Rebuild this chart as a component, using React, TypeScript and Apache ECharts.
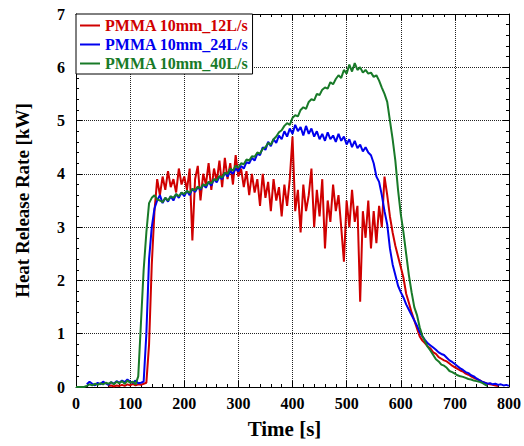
import React, { useEffect, useRef } from "react";
import * as echarts from "echarts";

const seriesNames = ["PMMA 10mm_12L/s", "PMMA 10mm_24L/s", "PMMA 10mm_40L/s"];
const seriesColors = ["#d00000", "#0000ee", "#187a28"];
const sampleStep = 5; // s
const redStart = 60;
const blueStart = 20;
const greenStart = 0;

// 12 L/s (red), from t = 60 s
const redValues = [
  0.02, 0.03, 0.01, 0.03, 0.02, 0.04, 0.02, 0.05, 0.03, 0.06,
  0.03, 0.05, 0.04, 0.06, 0.08, 0.8, 2.3, 3.3, 3.9, 3.6,
  3.95, 3.7, 4.05, 3.75, 3.9, 3.65, 4.1, 3.8, 3.95, 3.7,
  4.1, 2.75, 3.9, 4.15, 3.5, 4.0, 3.8, 4.2, 3.7, 4.1,
  3.85, 4.25, 3.75, 4.3, 3.9, 4.2, 3.8, 4.35, 3.95, 4.1,
  3.75, 4.05, 3.6, 4.0, 3.65, 3.9, 3.4, 4.0, 3.55, 3.85,
  3.3, 3.9, 3.5, 3.75, 3.2, 3.8, 3.4, 3.9, 4.7, 3.3,
  3.7, 2.9, 3.8, 3.3, 3.6, 4.1, 3.0, 3.7, 3.2, 3.9,
  2.6, 3.5, 3.1, 3.8, 3.3, 3.6, 3.0, 2.35, 3.5, 3.0,
  3.7, 3.1, 3.4, 1.6, 3.3, 2.8, 3.5, 2.6, 3.3, 2.7,
  3.4, 3.0, 3.95, 3.6, 3.2, 2.9, 2.65, 2.45, 2.25, 2.05,
  1.75, 1.58, 1.4, 1.25, 1.1, 0.95, 0.87, 0.82, 0.76, 0.72,
  0.65, 0.62, 0.56, 0.53, 0.5, 0.48, 0.44, 0.4, 0.37, 0.34,
  0.31, 0.29, 0.25, 0.23, 0.2, 0.17, 0.15, 0.13, 0.1, 0.08,
  0.06, 0.05, 0.04, 0.03, 0.02,
];

// 24 L/s (blue), from t = 20 s
const blueValues = [
  0.05, 0.1, 0.06, 0.03, 0.08, 0.05, 0.1, 0.07, 0.04, 0.09,
  0.06, 0.11, 0.08, 0.12, 0.09, 0.14, 0.1, 0.08, 0.12, 0.07,
  0.08, 0.1, 1.0, 2.4, 3.0, 3.35, 3.5, 3.6, 3.45, 3.55,
  3.48, 3.58, 3.5, 3.62, 3.55, 3.65, 3.58, 3.68, 3.6, 3.72,
  3.66, 3.75, 3.7, 3.8, 3.74, 3.85, 3.78, 3.9, 3.84, 3.95,
  3.9, 4.02, 3.95, 4.05, 4.0, 4.1, 4.05, 4.15, 4.1, 4.22,
  4.2, 4.3, 4.25, 4.38, 4.35, 4.5, 4.45, 4.6, 4.52, 4.65,
  4.58, 4.72, 4.65, 4.8, 4.7, 4.85, 4.75, 4.92, 4.8, 4.88,
  4.72, 4.9, 4.75, 4.85, 4.7, 4.8, 4.65, 4.75, 4.62, 4.78,
  4.65, 4.72, 4.6, 4.75, 4.62, 4.7, 4.55, 4.65, 4.5, 4.62,
  4.48, 4.55, 4.42, 4.5, 4.4, 4.35, 4.2, 3.95, 3.85, 3.6,
  3.3, 3.05, 2.6, 2.3, 2.1, 1.9, 1.78, 1.68, 1.55, 1.45,
  1.35, 1.25, 1.15, 1.03, 0.95, 0.88, 0.82, 0.78, 0.74, 0.7,
  0.65, 0.62, 0.6, 0.55, 0.5, 0.47, 0.43, 0.39, 0.35, 0.32,
  0.28, 0.26, 0.22, 0.2, 0.16, 0.13, 0.1, 0.08, 0.06, 0.07,
  0.05, 0.06, 0.04, 0.05, 0.03, 0.04, 0.02,
];

// 40 L/s (green), from t = 0 s
const greenValues = [
  0, 0, 0, 0, 0.02, 0.05, 0.03, 0.06, 0.04, 0.07,
  0.05, 0.08, 0.06, 0.09, 0.05, 0.1, 0.07, 0.11, 0.06, 0.12,
  0.08, 0.1, 0.05, 0.2, 1.2, 2.2, 2.9, 3.45, 3.55, 3.6,
  3.52, 3.5, 3.47, 3.55, 3.5, 3.58, 3.55, 3.62, 3.58, 3.65,
  3.62, 3.68, 3.64, 3.72, 3.69, 3.76, 3.72, 3.8, 3.78, 3.85,
  3.82, 3.9, 3.88, 3.96, 3.93, 4.02, 4.0, 4.1, 4.06, 4.15,
  4.12, 4.2, 4.18, 4.27, 4.25, 4.33, 4.32, 4.4, 4.38, 4.47,
  4.5, 4.58, 4.55, 4.65, 4.7, 4.78, 4.82, 4.9, 4.95, 4.92,
  5.05, 5.1, 5.08, 5.2, 5.25, 5.22, 5.35, 5.4, 5.38, 5.5,
  5.48, 5.58, 5.62, 5.6, 5.72, 5.68, 5.78, 5.85, 5.8, 5.95,
  5.88, 6.05, 5.92, 6.08, 5.95, 6.0, 5.9, 5.95, 5.88, 5.9,
  5.82, 5.85, 5.75, 5.62, 5.5, 5.35, 5.0, 4.65, 4.25, 3.7,
  3.25, 2.9, 2.5, 2.1, 1.78, 1.5, 1.35, 1.12, 0.96, 0.85,
  0.75, 0.68, 0.6, 0.52, 0.48, 0.42, 0.4, 0.36, 0.3, 0.28,
  0.25, 0.22, 0.2, 0.19, 0.17, 0.15, 0.14, 0.12, 0.11, 0.1,
  0.08, 0.05, 0.02,
];

const xTitle = "Time [s]";
const yTitle = "Heat Release Rate [kW]";

const toPairs = (start: number, vals: number[]) =>
  vals.map((v, i) => [start + i * sampleStep, v]);

const FONT = "'Liberation Serif', 'Times New Roman', serif";

export default function App() {
  const ref = useRef<HTMLDivElement>(null);
  useEffect(() => {
    if (!ref.current) return;
    const chart = echarts.init(ref.current, null, { renderer: "svg" });
    const gridLine = { show: true, lineStyle: { color: "#222", type: "dotted" as const, width: 1 } };
    const axisLine = { show: true, onZero: false, lineStyle: { color: "#000", width: 1 } };
    const tickStyle = { show: true, inside: true, length: 6, lineStyle: { color: "#000" } };
    const minorTick = { show: true, splitNumber: 5, length: 3, lineStyle: { color: "#000" } };
    const labelStyle = { fontFamily: FONT, fontWeight: "bold" as const, fontSize: 16, color: "#000" };
    const datasets = [
      toPairs(redStart, redValues),
      toPairs(blueStart, blueValues),
      toPairs(greenStart, greenValues),
    ];
    chart.setOption({
      animation: false,
      backgroundColor: "#fff",
      grid: { left: 76, right: 15, top: 14, bottom: 59, show: false },
      legend: {
        left: 76,
        top: 14,
        orient: "vertical",
        icon: "rect",
        itemWidth: 20,
        itemHeight: 2,
        itemGap: 0,
        padding: [2, 4, 1, 4],
        borderColor: "#000",
        borderWidth: 1,
        borderRadius: 0,
        backgroundColor: "#fff",
        textStyle: { fontFamily: FONT, fontWeight: "bold", fontSize: 16, lineHeight: 19 },
        data: seriesNames.map((n, i) => ({
          name: n,
          itemStyle: { color: seriesColors[i] },
          textStyle: { color: seriesColors[i] },
        })),
      },
      xAxis: [
        {
          type: "value",
          position: "bottom",
          min: 0,
          max: 800,
          interval: 100,
          axisLine,
          axisTick: tickStyle,
          minorTick,
          splitLine: gridLine,
          axisLabel: { ...labelStyle, margin: 8 },
          name: xTitle,
          nameLocation: "middle",
          nameGap: 31,
          nameTextStyle: { fontFamily: FONT, fontWeight: "bold", fontSize: 21, color: "#000", padding: [0, 16, 0, 0] },
        },
        {
          type: "value",
          position: "top",
          min: 0,
          max: 800,
          interval: 100,
          axisLine,
          axisTick: tickStyle,
          minorTick,
          splitLine: { show: false },
          axisLabel: { show: false },
        },
      ],
      yAxis: [
        {
          type: "value",
          position: "left",
          min: 0,
          max: 7,
          interval: 1,
          axisLine,
          axisTick: tickStyle,
          minorTick,
          splitLine: gridLine,
          axisLabel: { ...labelStyle, margin: 11 },
          name: yTitle,
          nameLocation: "middle",
          nameGap: 44,
          nameTextStyle: { fontFamily: FONT, fontWeight: "bold", fontSize: 19, color: "#000" },
        },
        {
          type: "value",
          position: "right",
          min: 0,
          max: 7,
          interval: 1,
          axisLine,
          axisTick: tickStyle,
          minorTick,
          splitLine: { show: false },
          axisLabel: { show: false },
        },
      ],
      series: seriesNames.map((n, i) => ({
        name: n,
        type: "line",
        xAxisIndex: 0,
        yAxisIndex: 0,
        symbol: "none",
        data: datasets[i],
        lineStyle: { color: seriesColors[i], width: 2 },
        itemStyle: { color: seriesColors[i] },
        z: i === 0 ? 3 : i === 1 ? 4 : 5,
      })),
    });
    return () => chart.dispose();
  }, []);
  return (
    <div
      ref={ref}
      style={{ position: "fixed", left: 0, top: 0, width: 524, height: 446 }}
    />
  );
}
